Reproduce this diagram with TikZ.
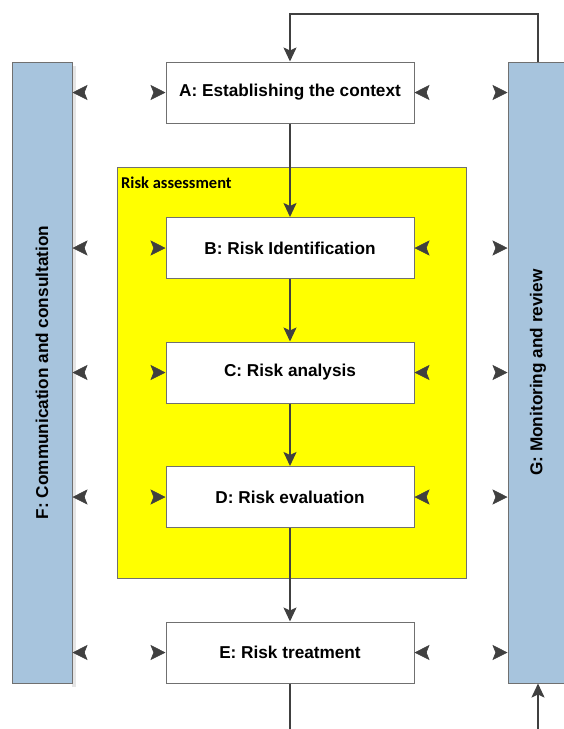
\documentclass[tikz,border=0pt]{standalone}
\usepackage{fontspec}
\setmainfont{Liberation Sans}
\newfontfamily\titlefont{Carlito}
\usetikzlibrary{arrows.meta,calc}
\definecolor{BarClr}{HTML}{A7C4DD}
\definecolor{LineClr}{HTML}{404040}
\definecolor{EdgeClr}{HTML}{707070}
\definecolor{AssessClr}{HTML}{FFFF00}

\begin{document}
\begin{tikzpicture}[x=1pt,y=-1pt,
  stepbox/.style={draw=EdgeClr,line width=1pt,fill=white,minimum width=248pt,minimum height=61pt,font=\fontsize{17.2}{20}\selectfont\bfseries},
  sidebar/.style={draw=EdgeClr,line width=1pt,fill=BarClr,minimum width=60pt,minimum height=621pt},
  bartext/.style={rotate=90,font=\fontsize{17.2}{20}\selectfont\bfseries},
  flow/.style={draw=LineClr,line width=1.8pt,-{Stealth[length=14pt,width=13pt,inset=3pt]}},
  tip/.style={draw=LineClr,fill=LineClr,line width=0.6pt,line join=round,-{Stealth[length=15pt,width=15pt,inset=3pt]}}]
\useasboundingbox (0,0) rectangle (564,729);

\node[draw=EdgeClr,line width=1pt,fill=AssessClr,minimum width=349pt,minimum height=411pt] (RA) at (291.5,372.5) {};
\node[anchor=base west,inner sep=0pt,font=\titlefont\fontsize{16.5}{19}\selectfont\bfseries] (RAt) at (121,188) {Risk assessment};

\fill[black!10] (72,66) rectangle (76,687);
\node[sidebar] (F) at (42,372.5) {};
\node[sidebar] (G) at (538,372.5) {};
\node[bartext] (Ft) at (F) {F: Communication and consultation};
\node[bartext] (Gt) at (G) {G: Monitoring and review};

\node[stepbox] (A) at (290,92.5) {A: Establishing the context};
\node[stepbox] (B) at (290,248) {B: Risk Identification};
\node[stepbox] (C) at (290,372.5) {C: Risk analysis};
\node[stepbox] (D) at (290,497) {D: Risk evaluation};
\node[stepbox] (E) at (290,652.5) {E: Risk treatment};

\coordinate (top) at (290,14);
\coordinate (outE) at (290,731);
\coordinate (inG) at (538,731);

\draw[flow] (G.north) |- (top) -- (A.north);
\draw[flow] (A) -- (B);
\draw[flow] (B) -- (C);
\draw[flow] (C) -- (D);
\draw[flow] (D) -- (E);
\draw[draw=LineClr,line width=1.8pt] (E.south) -- (outE);
\draw[flow] (inG) -- (G.south);

\foreach \n in {A,B,C,D,E}{
  \draw[tip] ($(F.east|-\n)+(12,0)$) -- (F.east|-\n);
  \draw[tip] ($(\n.west)+(-12,0)$) -- (\n.west);
  \draw[tip] ($(\n.east)+(12,0)$) -- (\n.east);
  \draw[tip] ($(G.west|-\n)+(-12,0)$) -- (G.west|-\n);
}

\end{tikzpicture}
\end{document}
